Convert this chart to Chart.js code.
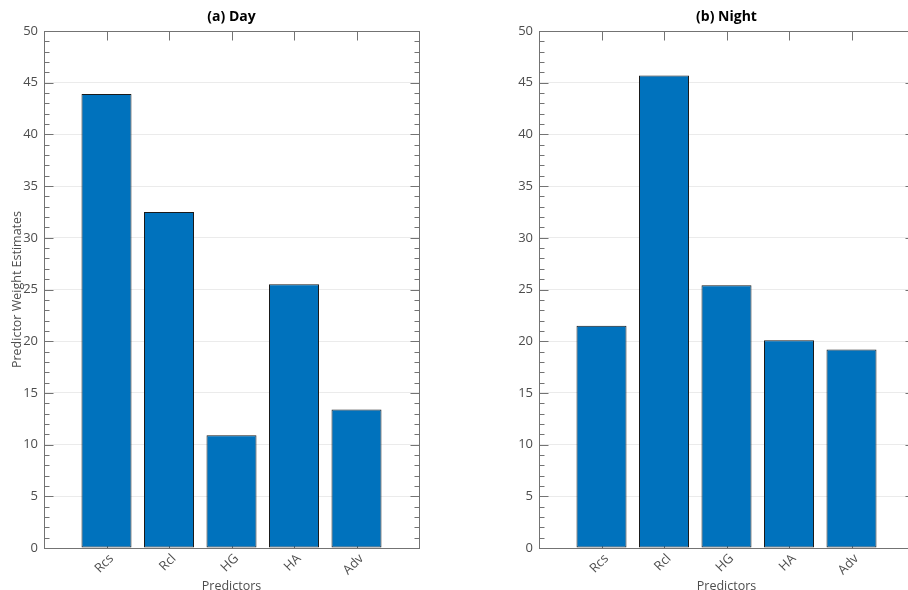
<!DOCTYPE html>
<html>
<head>
<meta charset="utf-8">
<script src="https://cdn.jsdelivr.net/npm/chart.js@4/dist/chart.umd.min.js"></script>
<style>
  html, body { margin: 0; padding: 0; overflow: hidden; background: #fff; }
  #wrap { position: relative; width: 908px; height: 590px; overflow: hidden; }
  canvas { position: absolute; top: 0; }
  #day { left: 0; }
  #night { left: 454px; }
</style>
</head>
<body>
<div id="wrap">
  <canvas id="day" width="454" height="600"></canvas>
  <canvas id="night" width="470" height="600"></canvas>
</div>
<script>
const categories = ['Rcs', 'Rcl', 'HG', 'HA', 'Adv'];
const dayWeights = [43.9, 32.5, 10.9, 25.5, 13.4];
const nightWeights = [21.5, 45.7, 25.4, 20.1, 19.2];
const yMin = 0, yMax = 50, yStep = 5, yMinorStep = 1;

const axisGray = '#737373';
const labelGray = '#4d4d4d';

Chart.defaults.font.family = "'Open Sans', 'Noto Sans', sans-serif";
Chart.defaults.color = labelGray;

// MATLAB-like box with inward ticks, plus the subplot title
const matlabAxes = {
  id: 'matlabAxes',
  beforeDatasetsDraw(chart, args, opts) {
    const ctx = chart.ctx;
    const { left, right, top, bottom } = chart.chartArea;
    const x = chart.scales.x, y = chart.scales.y;
    const L = Math.round(left) + 0.5, R = Math.round(right) + 0.5;
    const T = Math.round(top) + 0.5, B = Math.round(bottom) + 0.5;
    ctx.save();
    ctx.strokeStyle = axisGray;
    ctx.lineWidth = 1;
    ctx.beginPath();
    for (let v = yMin; v <= yMax; v += yMinorStep) {
      const py = Math.round(y.getPixelForValue(v)) + 0.5;
      const len = v % yStep === 0 ? 9 : 5;
      ctx.moveTo(L, py); ctx.lineTo(L + len, py);
      ctx.moveTo(R, py); ctx.lineTo(R - len, py);
    }
    for (let i = 1; i <= categories.length; i++) {
      const px = Math.round(x.getPixelForValue(i)) + 0.5;
      ctx.moveTo(px, T); ctx.lineTo(px, T + 9);
      ctx.moveTo(px, B); ctx.lineTo(px, B - 9);
    }
    ctx.stroke();
    ctx.strokeRect(L, T, R - L, B - T);
    ctx.restore();
  },
  afterDraw(chart, args, opts) {
    const ctx = chart.ctx;
    const { left, right, top } = chart.chartArea;
    ctx.save();
    ctx.fillStyle = '#000';
    ctx.font = "bold 14px 'Open Sans', sans-serif";
    ctx.textAlign = 'center';
    ctx.textBaseline = 'middle';
    ctx.fillText(opts.text, (left + right) / 2, top - 14);
    ctx.restore();
  }
};

function makeChart(id, values, title, yAxisWidth, padRight, showYTitle) {
  return new Chart(document.getElementById(id), {
    type: 'bar',
    data: {
      labels: ['', ...categories, ''],
      datasets: [{
        data: [null, ...values, null],
        backgroundColor: '#0072BD',
        borderColor: '#1a1a1a',
        borderWidth: 1,
        borderSkipped: false,
        barPercentage: 0.8,
        categoryPercentage: 1
      }]
    },
    options: {
      responsive: false,
      animation: false,
      layout: { padding: { top: 31, right: padRight, left: 0, bottom: 0 } },
      plugins: {
        legend: { display: false },
        tooltip: { enabled: false },
        matlabAxes: { text: title }
      },
      scales: {
        x: {
          offset: false,
          grid: { display: false, drawTicks: false },
          border: { display: false },
          ticks: {
            autoSkip: false, minRotation: 45, maxRotation: 45, padding: 3, labelOffset: 5,
            font: { size: 13 }, color: labelGray
          },
          title: { display: true, text: 'Predictors', font: { size: 12.5 }, color: labelGray, padding: { bottom: 6, top: 0 } },
          afterFit(scale) {
            scale.height = 52;
            scale.paddingLeft = 0;
            scale.paddingRight = 0;
          }
        },
        y: {
          min: yMin, max: yMax,
          ticks: { stepSize: yStep, padding: 6, font: { size: 13 }, color: labelGray },
          grid: { color: '#ebebeb', drawTicks: false },
          border: { display: false },
          title: { display: showYTitle, text: 'Predictor Weight Estimates', font: { size: 12.5 }, color: labelGray, padding: { top: 10, bottom: 0 } },
          afterFit(scale) { scale.width = yAxisWidth; }
        }
      }
    },
    plugins: [matlabAxes]
  });
}

makeChart('day', dayWeights, '(a) Day', 44, 35, true);
makeChart('night', nightWeights, '(b) Night', 85, 10, false);
</script>
</body>
</html>
